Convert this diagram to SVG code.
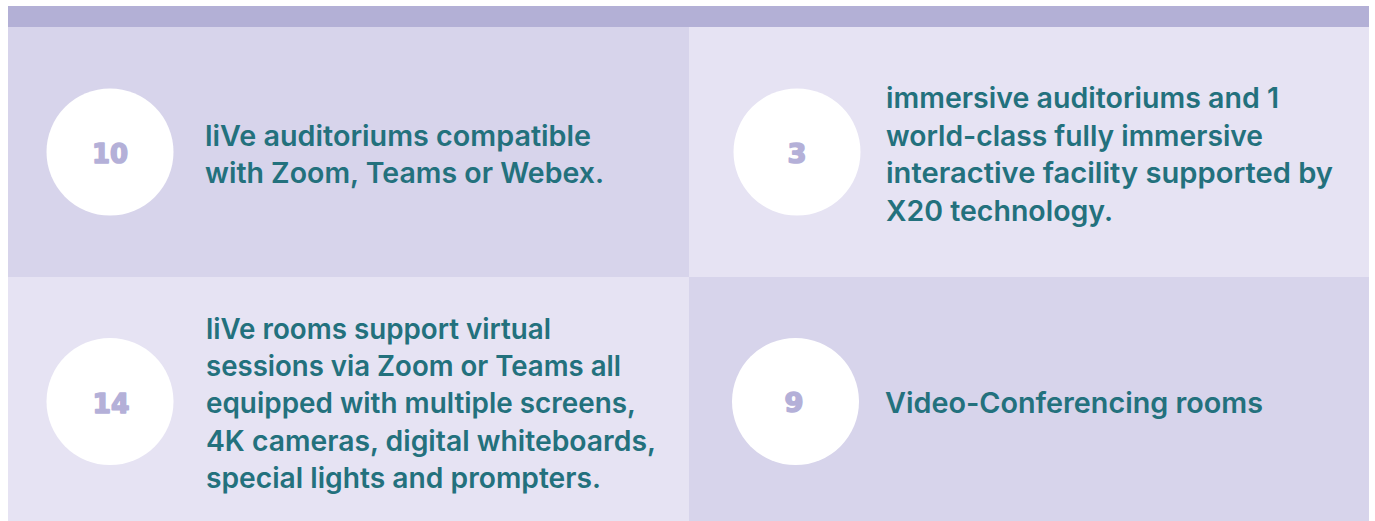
<svg xmlns="http://www.w3.org/2000/svg" width="1375" height="521" viewBox="0 0 1375 521">
<style>
.dark{fill:#d7d4eb}
.light{fill:#e6e3f3}
.band{fill:#b3b0d6}
.disc{fill:#ffffff}
.num{font-family:"DejaVu Sans",sans-serif;font-weight:bold;font-size:27px;fill:#b4b0d8;stroke:#b4b0d8;stroke-width:1.6px;stroke-linejoin:round;text-anchor:middle}
.txt{font-family:Inter,"Open Sans",sans-serif;font-weight:600;font-size:28px;fill:#23717d}
</style>
<rect width="1375" height="521" fill="#ffffff"/>
<rect class="band" x="8" y="6" width="1361" height="21"/>
<g id="node-10">
<rect class="dark" x="8" y="27" width="681" height="250"/>
<circle class="disc" cx="110" cy="152" r="63.5"/>
<text class="num" x="110" y="163" textLength="36" lengthAdjust="spacingAndGlyphs">10</text>
<text class="txt" x="205" y="145.7" textLength="386" lengthAdjust="spacingAndGlyphs">liVe auditoriums compatible</text>
<text class="txt" x="205" y="182.7" textLength="399" lengthAdjust="spacingAndGlyphs">with Zoom, Teams or Webex.</text>
</g>
<g id="node-3">
<rect class="light" x="689" y="27" width="680" height="250"/>
<circle class="disc" cx="797" cy="152" r="63.5"/>
<text class="num" x="797" y="163" textLength="19" lengthAdjust="spacingAndGlyphs">3</text>
<text class="txt" x="886" y="108.3" textLength="393" lengthAdjust="spacingAndGlyphs">immersive auditoriums and 1</text>
<text class="txt" x="886" y="146" textLength="377" lengthAdjust="spacingAndGlyphs">world-class fully immersive</text>
<text class="txt" x="886" y="183.3" textLength="447" lengthAdjust="spacingAndGlyphs">interactive facility supported by</text>
<text class="txt" x="886" y="220.7" textLength="227" lengthAdjust="spacingAndGlyphs">X20 technology.</text>
</g>
<g id="node-14">
<rect class="light" x="8" y="277" width="681" height="244"/>
<circle class="disc" cx="110" cy="401.5" r="63.5"/>
<text class="num" x="111" y="412.5" textLength="37" lengthAdjust="spacingAndGlyphs">14</text>
<text class="txt" x="206" y="339" textLength="345" lengthAdjust="spacingAndGlyphs">liVe rooms support virtual</text>
<text class="txt" x="206" y="375.7" textLength="415" lengthAdjust="spacingAndGlyphs">sessions via Zoom or Teams all</text>
<text class="txt" x="206" y="413.3" textLength="430" lengthAdjust="spacingAndGlyphs">equipped with multiple screens,</text>
<text class="txt" x="206" y="450.7" textLength="450" lengthAdjust="spacingAndGlyphs">4K cameras, digital whiteboards,</text>
<text class="txt" x="206" y="487.7" textLength="395" lengthAdjust="spacingAndGlyphs">special lights and prompters.</text>
</g>
<g id="node-9">
<rect class="dark" x="689" y="277" width="680" height="244"/>
<circle class="disc" cx="795.5" cy="401.5" r="63.5"/>
<text class="num" x="794" y="412" textLength="19" lengthAdjust="spacingAndGlyphs">9</text>
<text class="txt" x="885" y="413.3" textLength="378" lengthAdjust="spacingAndGlyphs">Video-Conferencing rooms</text>
</g>
</svg>
